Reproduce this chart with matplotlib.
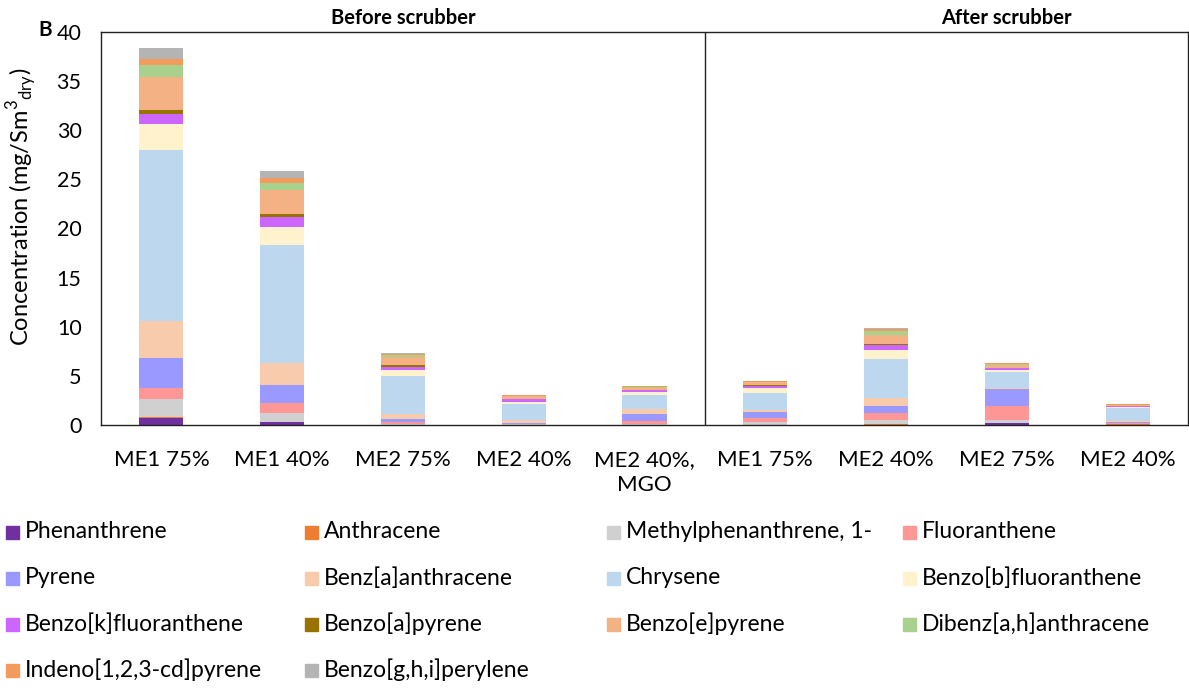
import numpy as np
import matplotlib.pyplot as plt
from matplotlib.patches import Rectangle

plt.rcParams['font.family'] = ['Lato', 'DejaVu Sans']
plt.rcParams['mathtext.fontset'] = 'custom'
plt.rcParams['mathtext.rm'] = 'Lato'

categories = ['ME1 75%', 'ME1 40%', 'ME2 75%', 'ME2 40%', 'ME2 40%,\nMGO',
              'ME1 75%', 'ME2 40%', 'ME2 75%', 'ME2 40%']

compounds = ['Phenanthrene', 'Anthracene', 'Methylphenanthrene, 1-', 'Fluoranthene',
             'Pyrene', 'Benz[a]anthracene', 'Chrysene', 'Benzo[b]fluoranthene',
             'Benzo[k]fluoranthene', 'Benzo[a]pyrene', 'Benzo[e]pyrene',
             'Dibenz[a,h]anthracene', 'Indeno[1,2,3-cd]pyrene', 'Benzo[g,h,i]perylene']

colors = ['#7030A0', '#ED7D31', '#D0D0D0', '#FF9797', '#9999FF', '#F8CBAD', '#BDD7EE',
          '#FFF2CC', '#CC66FF', '#997300', '#F4B183', '#A9D18E', '#F29B5D', '#B4B4B4']

# mg/Sm3 dry, one list per compound, same order as categories
phenanthrene = [0.68, 0.27, 0.03, 0.02, 0.03, 0.03, 0.05, 0.20, 0.05]
anthracene = [0.17, 0.05, 0.02, 0.01, 0.02, 0.01, 0.02, 0.03, 0.01]
methylphenanthrene = [1.83, 0.95, 0.05, 0.05, 0.07, 0.24, 0.48, 0.24, 0.05]
fluoranthene = [1.09, 0.95, 0.20, 0.07, 0.31, 0.48, 0.68, 1.43, 0.05]
pyrene = [3.02, 1.90, 0.34, 0.10, 0.71, 0.54, 0.71, 1.73, 0.10]
benz_a_anthracene = [3.80, 2.14, 0.44, 0.27, 0.51, 0.24, 0.81, 0.10, 0.17]
chrysene = [17.37, 12.04, 3.90, 1.63, 1.45, 1.74, 3.98, 1.70, 1.35]
benzo_b_fluoranthene = [2.65, 1.87, 0.58, 0.24, 0.24, 0.51, 0.92, 0.20, 0.05]
benzo_k_fluoranthene = [1.05, 1.02, 0.37, 0.24, 0.20, 0.20, 0.48, 0.15, 0.12]
benzo_a_pyrene = [0.44, 0.24, 0.20, 0.03, 0.03, 0.04, 0.14, 0.05, 0.02]
benzo_e_pyrene = [3.33, 2.48, 0.78, 0.27, 0.24, 0.30, 0.88, 0.30, 0.08]
dibenz_ah_anthracene = [1.19, 0.68, 0.24, 0.03, 0.03, 0.08, 0.44, 0.05, 0.02]
indeno_pyrene = [0.64, 0.54, 0.10, 0.10, 0.08, 0.05, 0.20, 0.08, 0.07]
benzo_ghi_perylene = [1.12, 0.71, 0.10, 0.03, 0.05, 0.02, 0.05, 0.05, 0.02]

series = [phenanthrene, anthracene, methylphenanthrene, fluoranthene, pyrene,
          benz_a_anthracene, chrysene, benzo_b_fluoranthene, benzo_k_fluoranthene,
          benzo_a_pyrene, benzo_e_pyrene, dibenz_ah_anthracene, indeno_pyrene,
          benzo_ghi_perylene]

W, H = 1189, 688
fig = plt.figure(figsize=(W / 100, H / 100), dpi=100)
ax = fig.add_axes([101 / W, 1 - 425 / H, 1087 / W, 393 / H])

x = np.arange(len(categories))
bottom = np.zeros(len(categories))
for name, vals, c in zip(compounds, series, colors):
    ax.bar(x, vals, bottom=bottom, width=0.365, color=c, label=name)
    bottom += np.array(vals)

ax.set_xlim(-0.5, len(categories) - 0.5)
ax.set_ylim(0, 40)
ax.set_yticks(range(0, 41, 5))
ax.set_xticks(x)
ax.set_xticklabels(categories, fontsize=16, linespacing=1.3)
ax.tick_params(axis='y', length=0, pad=14, labelsize=15.5)
ax.tick_params(axis='x', length=0, pad=18)
for s in ax.spines.values():
    s.set_color('#222222')
    s.set_linewidth(1.0)

# divider between the two sampling points
ax.axvline(4.5, color='#222222', linewidth=1.0)
ax.text(2, 1.035, 'Before scrubber', transform=ax.get_xaxis_transform(),
        ha='center', va='center', fontsize=14.5, fontweight='bold')
ax.text(7, 1.035, 'After scrubber', transform=ax.get_xaxis_transform(),
        ha='center', va='center', fontsize=14.5, fontweight='bold')

ax.set_ylabel('Concentration (mg/Sm$^{3}$$_{\\mathregular{dry}}$)', fontsize=17)
ax.yaxis.set_label_coords(-0.056, 0.555)
fig.text(45 / W, 1 - 30 / H, 'B', fontsize=15, fontweight='bold', ha='center', va='center')

# legend laid out in four columns, row by row
col_x = [6, 305, 607, 903]
row_y = [532, 578, 624, 670]
for i, (name, c) in enumerate(zip(compounds, colors)):
    r, k = divmod(i, 4)
    px, py = col_x[k], row_y[r]
    fig.add_artist(Rectangle((px / W, 1 - (py + 7) / H), 13 / W, 13 / H,
                             transform=fig.transFigure, color=c))
    fig.text((px + 19) / W, 1 - py / H, name, fontsize=16.5, va='center', ha='left')

fig.savefig('out.png', dpi=100)
